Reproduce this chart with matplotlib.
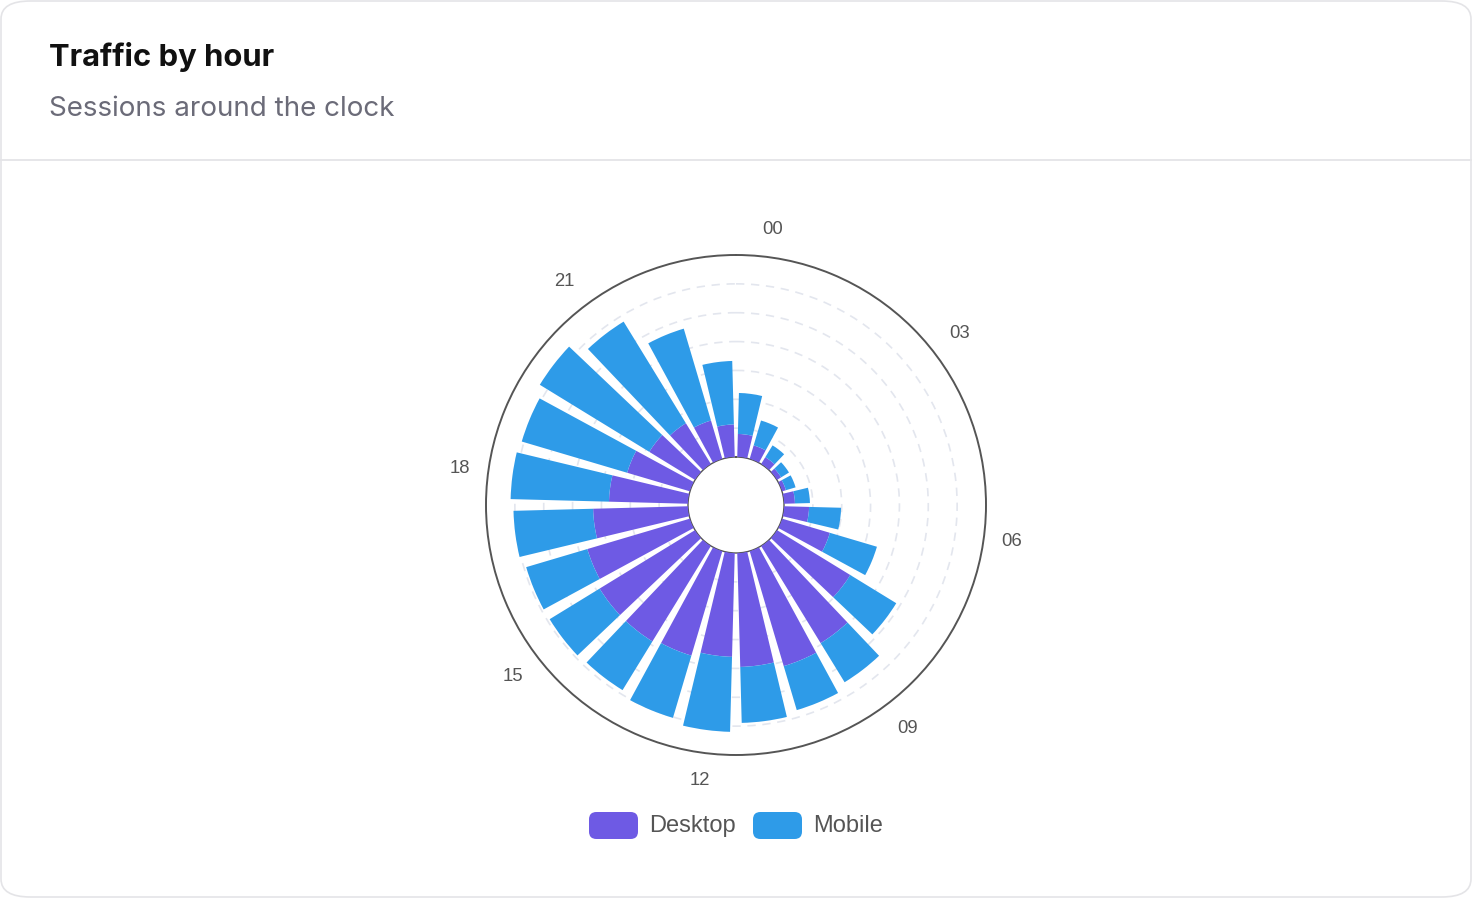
import numpy as np
import matplotlib
matplotlib.use("Agg")
import matplotlib.pyplot as plt
from matplotlib.patches import FancyBboxPatch
from matplotlib.lines import Line2D

# ---- data ----
hours = [f"{h:02d}" for h in range(24)]
desktop = [80, 49, 28, 17, 14, 38, 87, 173, 298, 395, 416, 395,
           360, 378, 388, 388, 371, 329, 274, 227, 186, 166, 139, 113]
mobile = [142, 90, 48, 32, 35, 52, 111, 170, 187, 159, 159, 194,
          260, 225, 198, 203, 221, 276, 341, 381, 445, 413, 332, 220]
label_hours = ["00", "03", "06", "09", "12", "15", "18", "21"]
series_names = ["Desktop", "Mobile"]
colors = ["#6E5AE4", "#2E9BE8"]
r_max = 700
r_ticks = [100, 200, 300, 400, 500, 600]

W, H = 1472, 898
fig = plt.figure(figsize=(W / 100, H / 100), dpi=100)
fig.patch.set_facecolor("white")

# card background
card = FancyBboxPatch((1 / W, 1 / H), 1 - 2 / W, 1 - 2 / H,
                      boxstyle="round,pad=0,rounding_size=0.02",
                      transform=fig.transFigure, facecolor="white",
                      edgecolor="#e4e4e7", linewidth=1.2, zorder=-10)
fig.patches.append(card)

# header
fig.text(49 / W, 1 - 57 / H, "Traffic by hour", fontsize=22.3, fontweight="bold",
         family="Inter", color="#111111", va="center", ha="left")
fig.text(49 / W, 1 - 109 / H, "Sessions around the clock", fontsize=20,
         family="Inter", color="#6b6b78", va="center", ha="left")
fig.add_artist(Line2D([0, 1], [1 - 160.5 / H, 1 - 160.5 / H], transform=fig.transFigure,
                      color="#e4e4e7", linewidth=1.3))

# polar chart
cx, cy, R, R_in = 736, 505, 250, 48
ax = fig.add_axes([(cx - R) / W, (H - cy - R) / H, 2 * R / W, 2 * R / H],
                  projection="polar", zorder=5)
ax.set_theta_zero_location("N")
ax.set_theta_direction(-1)
frac = R_in / R
origin = frac * r_max / (1 - frac)
ax.set_ylim(0, r_max)
ax.set_rorigin(-origin)

band = 2 * np.pi / len(hours)
theta = np.arange(len(hours)) * band + band / 2
width = band * 0.80
ax.bar(theta, desktop, width=width, bottom=0, color=colors[0], linewidth=0, zorder=3)
ax.bar(theta, mobile, width=width, bottom=desktop, color=colors[1], linewidth=0, zorder=3)

ax.set_xticks([])
ax.set_yticks(r_ticks)
ax.set_yticklabels([])
ax.xaxis.grid(False)
ax.yaxis.grid(True, linestyle=(0, (5, 4)), color="#e3e6ee", linewidth=1.2)
ax.tick_params(axis="y", length=0)
ax.set_axisbelow(True)
for name, sp in ax.spines.items():
    if name == "polar":
        sp.set_color("#555555")
        sp.set_linewidth(1.4)
    elif name == "inner":
        sp.set_color("#555555")
        sp.set_linewidth(1.0)
    else:
        sp.set_visible(False)
ax.set_facecolor("none")

# angle labels (text box offset grows on diagonals, like an edge-anchored label)
for lab in label_hours:
    h = hours.index(lab)
    r_px = 277 + 4.5 * abs(np.sin(2 * theta[h]))
    r_lab = (r_px / R) * (r_max + origin) - origin
    ax.text(theta[h], r_lab, lab, ha="center", va="center", fontsize=13.3,
            family="Liberation Sans", color="#555555", clip_on=False)

# legend
items = [(589, 649, series_names[0], colors[0]), (753, 813, series_names[1], colors[1])]
for sx, tx, name, col in items:
    sw = FancyBboxPatch((sx / W, 1 - 839 / H), 49 / W, 27 / H,
                        boxstyle="round,pad=0,rounding_size=0.005",
                        transform=fig.transFigure, facecolor=col, edgecolor="none",
                        mutation_aspect=W / H)
    fig.patches.append(sw)
    fig.text(tx / W, 1 - 826 / H, name, fontsize=17, family="Liberation Sans",
             color="#555555", va="center", ha="left")

fig.savefig("out.png", dpi=100)
